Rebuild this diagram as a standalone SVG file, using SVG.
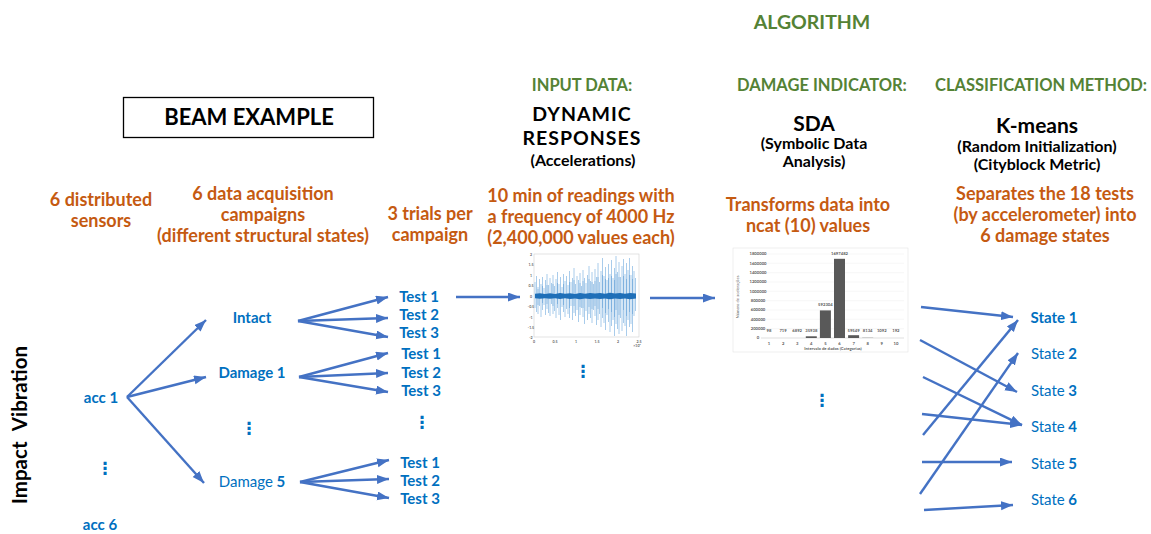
<svg xmlns="http://www.w3.org/2000/svg" width="1151" height="534" viewBox="0 0 1151 534">
<defs>
<marker id="ah" markerUnits="userSpaceOnUse" markerWidth="13" markerHeight="10" refX="12" refY="4.5" orient="auto">
<path d="M0,0 L12,4.5 L0,9 z" fill="#4472C4"/>
</marker>
<style>
text{font-family:Lato,"Open Sans","Liberation Sans",sans-serif;font-weight:bold;text-anchor:middle}
.or{fill:#C55A11;font-size:18px}
.gr{fill:#548235;font-size:16.5px}
.hd{fill:#000;font-size:22px}
.hd1{fill:#000;font-size:19.5px;letter-spacing:1px}
.hd2{fill:#000;font-size:21px}
.sub{fill:#000;font-size:16px}
.bl{fill:#0070C0;font-size:15px}
.rg{font-weight:normal}
.dots{fill:#0070C0;font-family:"DejaVu Sans",sans-serif;font-size:17px;font-weight:bold}
.cn line{stroke:#4472C4;stroke-width:2.4;marker-end:url(#ah)}
.tk{fill:#666;font-size:3.6px;font-weight:normal}
.tk2{fill:#595959;font-size:4.2px;font-weight:normal}
</style>
</defs>
<rect width="1151" height="534" fill="#fff"/>

<g id="headers">
<text class="gr" x="812" y="29" style="font-size:19.5px">ALGORITHM</text>
<text class="gr" x="582" y="91">INPUT DATA:</text>
<text class="gr" x="822" y="91">DAMAGE INDICATOR:</text>
<text class="gr" x="1041" y="91">CLASSIFICATION METHOD:</text>
</g>

<g id="beam-example">
<rect x="123.5" y="97.5" width="250" height="40" fill="#fff" stroke="#000" stroke-width="1.3"/>
<text class="hd" x="249" y="125">BEAM EXAMPLE</text>
</g>

<g id="input-data">
<text class="hd1" x="582" y="120.5">DYNAMIC</text>
<text class="hd1" x="582" y="145">RESPONSES</text>
<text class="sub" x="583" y="166">(Accelerations)</text>
<text class="or" x="581" y="202">10 min of readings with</text>
<text class="or" x="581" y="223">a frequency of 4000 Hz</text>
<text class="or" x="581" y="244">(2,400,000 values each)</text>
</g>

<g id="damage-indicator">
<text class="hd2" x="814" y="131">SDA</text>
<text class="sub" x="814" y="149">(Symbolic Data</text>
<text class="sub" x="814" y="167">Analysis)</text>
<text class="or" x="808" y="211">Transforms data into</text>
<text class="or" x="808" y="232">ncat (10) values</text>
</g>

<g id="classification">
<text class="hd2" x="1037" y="133">K-means</text>
<text class="sub" x="1037" y="152">(Random Initialization)</text>
<text class="sub" x="1037" y="170">(Cityblock Metric)</text>
<text class="or" x="1045" y="200">Separates the 18 tests</text>
<text class="or" x="1045" y="221">(by accelerometer) into</text>
<text class="or" x="1045" y="242">6 damage states</text>
</g>

<g id="col-labels">
<text class="or" x="101" y="206">6 distributed</text>
<text class="or" x="101" y="227">sensors</text>
<text class="or" x="263" y="200">6 data acquisition</text>
<text class="or" x="263" y="221">campaigns</text>
<text class="or" x="263" y="242">(different structural states)</text>
<text class="or" x="430" y="220">3 trials per</text>
<text class="or" x="430" y="241">campaign</text>
</g>

<g id="impact-vibration">
<text x="0" y="0" transform="translate(27,425) rotate(-90)" style="font-size:20.5px;word-spacing:6px" fill="#000">Impact Vibration</text>
</g>

<g id="sensors">
<text class="bl" x="101" y="403">acc 1</text>
<text class="dots" x="105" y="474">⋮</text>
<text class="bl" x="100" y="530">acc 6</text>
</g>

<g id="campaigns">
<text class="bl" x="252" y="323">Intact</text>
<text class="bl" x="252" y="378">Damage 1</text>
<text class="dots" x="249" y="434">⋮</text>
<text class="bl" x="252" y="487"><tspan class="rg">Damage</tspan> 5</text>
</g>

<g id="tests">
<text class="bl" x="419" y="302">Test 1</text>
<text class="bl" x="419" y="320">Test 2</text>
<text class="bl" x="419" y="338">Test 3</text>
<text class="bl" x="421" y="359">Test 1</text>
<text class="bl" x="421" y="378">Test 2</text>
<text class="bl" x="421" y="396">Test 3</text>
<text class="dots" x="422" y="428">⋮</text>
<text class="bl" x="420" y="468">Test 1</text>
<text class="bl" x="420" y="486">Test 2</text>
<text class="bl" x="420" y="504">Test 3</text>
</g>

<g id="states">
<text class="bl" x="1054" y="323">State 1</text>
<text class="bl" x="1054" y="359"><tspan class="rg">State</tspan> 2</text>
<text class="bl" x="1054" y="396"><tspan class="rg">State</tspan> 3</text>
<text class="bl" x="1054" y="432"><tspan class="rg">State</tspan> 4</text>
<text class="bl" x="1054" y="469"><tspan class="rg">State</tspan> 5</text>
<text class="bl" x="1054" y="505"><tspan class="rg">State</tspan> 6</text>
</g>

<g id="signal-plot">
<rect x="534" y="254" width="105" height="83" fill="#fff" stroke="#cfcfcf" stroke-width="0.6"/>
<g class="tk" style="text-anchor:end">
<text x="531" y="255.5">2</text><text x="531" y="266">1.5</text><text x="531" y="276.5">1</text><text x="531" y="286.5">0.5</text><text x="531" y="297.5">0</text><text x="531" y="308">-0.5</text><text x="531" y="318.5">-1</text><text x="531" y="328.5">-1.5</text><text x="531" y="338.5">-2</text>
</g>
<g class="tk">
<text x="534" y="342.5">0</text><text x="555" y="342.5">0.5</text><text x="576" y="342.5">1</text><text x="597" y="342.5">1.5</text><text x="618" y="342.5">2</text><text x="639" y="342.5">2.5</text><text x="637" y="347">×10⁶</text>
</g>
<path stroke="#A9CCEB" stroke-width="1" fill="none" d="M535,282V308 M536.5,276V312 M538,287V314 M539.5,279V306 M541,284V317 M542.5,277V310 M544,288V305 M545.5,280V315 M547,274V309 M548.5,285V313 M550,278V316 M551.5,283V304 M553,275V314 M554.5,286V311 M556,279V318 M557.5,272V308 M559,284V315 M560.5,277V320 M562,287V307 M563.5,274V312 M565,281V317 M566.5,276V309 M568,285V314 M569.5,271V318 M571,282V306 M572.5,278V320 M574,268V313 M575.5,284V316 M577,276V310 M578.5,280V322 M580,273V315 M581.5,286V308 M583,270V317 M584.5,278V324 M586,283V311 M587.5,275V320 M589,266V314 M590.5,281V318 M592,272V323 M593.5,284V310 M595,269V316 M596.5,277V325 M598,263V320 M599.5,282V314 M601,271V327 M602.5,258V318 M604,276V323 M605.5,267V330 M607,280V315 M608.5,264V322 M610,274V332 M611.5,260V326 M613,278V320 M614.5,268V336 M616,256V324 M617.5,272V329 M619,262V334 M620.5,277V318 M622,266V331 M623.5,259V323 M625,274V326 M626.5,263V336 M628,270V320 M629.5,258V327 M631,275V324 M632.5,266V332 M634,271V316 M635.5,278V311"/>
<path stroke="#5B9BD5" stroke-width="0.8" fill="none" opacity="0.65" d="M538,289V305 M542.5,286V303 M547,285V304 M553,284V306 M557.5,283V304 M563.5,284V305 M569.5,282V308 M574,280V306 M580,283V307 M583,281V308 M589,279V307 M592,282V309 M595,281V306 M598,277V309 M602.5,275V308 M605.5,279V313 M608.5,278V309 M611.5,276V312 M614.5,280V317 M616,274V310 M619,277V315 M623.5,276V310 M626.5,279V316 M629.5,275V312 M632.5,279V314"/>
<path fill="#1F6FB8" d="M535,293.8 L540,293.2 L545,294 L550,293.3 L555,293.9 L560,293.1 L565,293.8 L570,293.2 L575,293.9 L580,293 L585,293.7 L590,292.9 L595,293.6 L600,293.1 L605,293.8 L610,292.8 L615,293.6 L620,293 L625,293.7 L630,292.9 L636,293.6 L636,298.6 L630,299.2 L625,298.5 L620,299.1 L615,298.4 L610,299.3 L605,298.6 L600,299 L595,298.4 L590,299.1 L585,298.5 L580,299.2 L575,298.4 L570,298.9 L565,298.3 L560,298.9 L555,298.3 L550,298.8 L545,298.2 L540,298.8 L535,298.3 z"/>
</g>

<g id="histogram">
<rect x="733" y="248" width="175" height="104" fill="#fff" stroke="#e4e4e4" stroke-width="0.6"/>
<g stroke="#ececec" stroke-width="0.4">
<line x1="761" y1="254" x2="904" y2="254"/><line x1="761" y1="263.3" x2="904" y2="263.3"/><line x1="761" y1="272.7" x2="904" y2="272.7"/><line x1="761" y1="282" x2="904" y2="282"/><line x1="761" y1="291.3" x2="904" y2="291.3"/><line x1="761" y1="300.7" x2="904" y2="300.7"/><line x1="761" y1="310" x2="904" y2="310"/><line x1="761" y1="319.3" x2="904" y2="319.3"/><line x1="761" y1="328.7" x2="904" y2="328.7"/>
</g>
<line x1="761" y1="338" x2="904" y2="338" stroke="#bfbfbf" stroke-width="0.5"/>
<g class="tk2" style="text-anchor:end">
<text x="758" y="255.4">1800000</text><text x="758" y="264.7">1600000</text><text x="758" y="274.1">1400000</text><text x="758" y="283.4">1200000</text><text x="758" y="292.7">1000000</text><text x="758" y="302.1">800000</text><text x="758" y="311.4">600000</text><text x="758" y="320.7">400000</text><text x="758" y="330.1">200000</text><text x="758" y="339.4">0</text>
</g>
<text class="tk2" transform="translate(739,297) rotate(-90)">Número de acelerações</text>
<g fill="#595959">
<rect x="805.8" y="336.3" width="11" height="1.7"/>
<rect x="819.9" y="310.4" width="11" height="27.6"/>
<rect x="834" y="258.8" width="11" height="79.2"/>
<rect x="848.1" y="335.2" width="11" height="2.8"/>
<rect x="862.2" y="337.8" width="11" height="0.2"/>
</g>
<g class="tk2">
<text x="769" y="332">98</text><text x="783.1" y="332">719</text><text x="797.2" y="332">6892</text><text x="811.3" y="332">35938</text><text x="825.4" y="305.5">592304</text><text x="839.5" y="254.5">1697482</text><text x="853.6" y="332">59549</text><text x="867.7" y="332">8134</text><text x="881.8" y="332">1092</text><text x="895.9" y="332">192</text>
</g>
<g class="tk2">
<text x="769" y="345">1</text><text x="783.1" y="345">2</text><text x="797.2" y="345">3</text><text x="811.3" y="345">4</text><text x="825.4" y="345">5</text><text x="839.5" y="345">6</text><text x="853.6" y="345">7</text><text x="867.7" y="345">8</text><text x="881.8" y="345">9</text><text x="895.9" y="345">10</text>
<text x="833" y="350">Intervalo de dados (Categorias)</text>
</g>
<text class="dots" x="822" y="406">⋮</text>
</g>
<text class="dots" x="583" y="377">⋮</text>

<g id="connectors" class="cn">
<line x1="127" y1="397" x2="206" y2="320"/>
<line x1="127" y1="397" x2="206" y2="377"/>
<line x1="127" y1="397" x2="204" y2="483"/>
<line x1="298" y1="321" x2="388" y2="297"/>
<line x1="298" y1="321" x2="388" y2="318"/>
<line x1="298" y1="321" x2="388" y2="337"/>
<line x1="299" y1="377" x2="388" y2="353"/>
<line x1="299" y1="377" x2="388" y2="373"/>
<line x1="299" y1="377" x2="388" y2="392"/>
<line x1="300" y1="482" x2="389" y2="460"/>
<line x1="300" y1="482" x2="389" y2="479"/>
<line x1="300" y1="482" x2="389" y2="498"/>
<line x1="456" y1="297" x2="520" y2="297"/>
<line x1="650" y1="298" x2="715" y2="298"/>
<line x1="921" y1="307" x2="1013" y2="317"/>
<line x1="920" y1="340" x2="1017" y2="392"/>
<line x1="923" y1="377" x2="1022" y2="425"/>
<line x1="922" y1="414" x2="1022" y2="425"/>
<line x1="923" y1="435" x2="1018" y2="320"/>
<line x1="922" y1="462" x2="1012" y2="462"/>
<line x1="920" y1="494" x2="1018" y2="353"/>
<line x1="924" y1="510" x2="1013" y2="505"/>
</g>
</svg>
